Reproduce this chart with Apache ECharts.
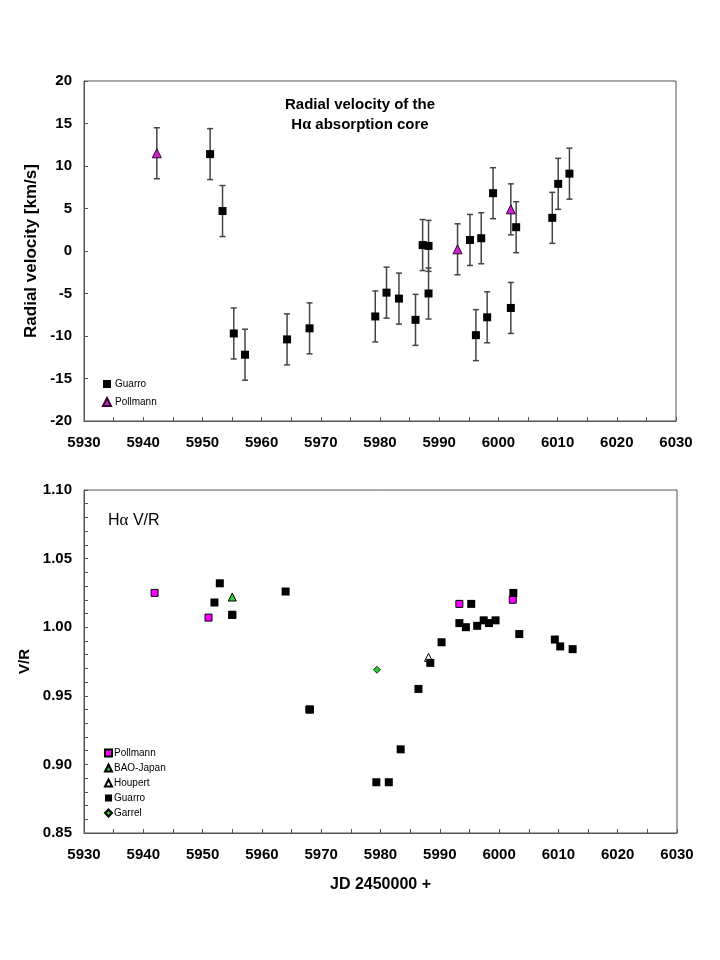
<!DOCTYPE html>
<html>
<head>
<meta charset="utf-8">
<script src="https://cdn.jsdelivr.net/npm/echarts@6/dist/echarts.min.js"></script>
<style>
html,body{margin:0;padding:0;background:#fff;}
#chart{width:720px;height:960px;}
</style>
</head>
<body>
<div id="chart"></div>
<script>
// ---------- Data: radial velocity (top panel) ----------
const rvGuarroX = [5951.3, 5953.4, 5955.3, 5957.2, 5964.3, 5968.1, 5979.2, 5981.1, 5983.2, 5986.0, 5987.2, 5988.2, 5988.2, 5995.2, 5996.2, 5997.1, 5998.1, 5999.1, 6002.1, 6003.0, 6009.1, 6010.1, 6012.0];
const rvGuarroY = [11.4, 4.7, -9.7, -12.2, -10.4, -9.1, -7.7, -4.9, -5.6, -8.1, 0.7, 0.6, -5.0, 1.3, -9.9, 1.5, -7.8, 6.8, -6.7, 2.8, 3.9, 7.9, 9.1];
const rvGuarroErr = [3, 3, 3, 3, 3, 3, 3, 3, 3, 3, 3, 3, 3, 3, 3, 3, 3, 3, 3, 3, 3, 3, 3];
const rvPollmannX = [5942.3, 5993.1, 6002.1];
const rvPollmannY = [11.5, 0.2, 4.9];
const rvPollmannErr = [3, 3, 3];

// ---------- Data: V/R (bottom panel) ----------
const vrPollmannX = [5941.9, 5951.0, 5955.0, 5968.0, 5993.3, 6002.3];
const vrPollmannY = [1.025, 1.007, 1.009, 0.940, 1.017, 1.020];
const vrBaoX = [5955.0];
const vrBaoY = [1.022];
const vrHoupertX = [5988.1];
const vrHoupertY = [0.978];
const vrGuarroX = [5952.0, 5952.9, 5955.0, 5964.0, 5968.1, 5979.3, 5981.4, 5983.4, 5986.4, 5988.4, 5990.3, 5993.3, 5994.4, 5995.3, 5996.3, 5997.4, 5998.3, 5999.4, 6002.4, 6003.4, 6009.4, 6010.3, 6012.4];
const vrGuarroY = [1.018, 1.032, 1.009, 1.026, 0.940, 0.887, 0.887, 0.911, 0.955, 0.974, 0.989, 1.003, 1.000, 1.017, 1.001, 1.005, 1.003, 1.005, 1.025, 0.995, 0.991, 0.986, 0.984];
const vrGarrelX = [5979.4];
const vrGarrelY = [0.969];

// ---------- Axis settings ----------
const xMin = 5930, xMax = 6030, xStep = 10;
const rvMin = -20, rvMax = 20, rvStep = 5;
const vrMin = 0.85, vrMax = 1.10, vrStep = 0.05;

const zip = (xs, ys) => xs.map((x, i) => [x, ys[i]]);
const bars = (xs, ys, es) => xs.map((x, i) => [x, ys[i] - es[i], ys[i] + es[i]]);

const FONT = '"Liberation Sans", Arial, sans-serif';
const AX = '#555';

function errRender(params, api) {
  const x = api.value(0);
  const p1 = api.coord([x, api.value(1)]);
  const p2 = api.coord([x, api.value(2)]);
  const w = 3;
  const st = { stroke: '#444', lineWidth: 1.5 };
  return {
    type: 'group',
    children: [
      { type: 'line', shape: { x1: p1[0], y1: p1[1], x2: p2[0], y2: p2[1] }, style: st },
      { type: 'line', shape: { x1: p1[0] - w, y1: p1[1], x2: p1[0] + w, y2: p1[1] }, style: st },
      { type: 'line', shape: { x1: p2[0] - w, y1: p2[1], x2: p2[0] + w, y2: p2[1] }, style: st }
    ]
  };
}

function xAxisCfg(gi, withName) {
  const a = {
    type: 'value', gridIndex: gi, min: xMin, max: xMax, interval: xStep,
    axisLine: { show: true, onZero: false, lineStyle: { color: AX, width: 1 } },
    axisTick: { show: true, inside: true, length: 4, lineStyle: { color: AX } },
    minorTick: { show: true, splitNumber: 2, length: 4, lineStyle: { color: AX } },
    splitLine: { show: false },
    axisLabel: { color: '#000', fontSize: 15, fontWeight: 'bold', fontFamily: FONT, margin: 14,
      formatter: v => String(v) }
  };
  if (withName) {
    a.name = 'JD 2450000 +';
    a.nameLocation = 'middle';
    a.nameGap = 44;
    a.nameTextStyle = { color: '#000', fontSize: 16, fontWeight: 'bold', fontFamily: FONT };
  }
  return a;
}

const chart = echarts.init(document.getElementById('chart'), null, { renderer: 'canvas' });
chart.setOption({
  backgroundColor: '#fff',
  animation: false,
  grid: [
    { left: 84, top: 81, width: 592, height: 340, show: true, borderColor: AX, borderWidth: 1, backgroundColor: 'transparent' },
    { left: 84, top: 490, width: 593, height: 343, show: true, borderColor: AX, borderWidth: 1, backgroundColor: 'transparent' }
  ],
  xAxis: [xAxisCfg(0, false), xAxisCfg(1, true)],
  yAxis: [
    {
      type: 'value', gridIndex: 0, min: rvMin, max: rvMax, interval: rvStep,
      axisLine: { show: true, onZero: false, lineStyle: { color: AX } },
      axisTick: { show: true, inside: true, length: 4, lineStyle: { color: AX } },
      splitLine: { show: false },
      axisLabel: { color: '#000', fontSize: 15, fontWeight: 'bold', fontFamily: FONT, margin: 12 },
      name: 'Radial velocity [km/s]', nameLocation: 'middle', nameGap: 43, nameRotate: 90,
      nameTextStyle: { color: '#000', fontSize: 17, fontWeight: 'bold', fontFamily: FONT }
    },
    {
      type: 'value', gridIndex: 1, min: vrMin, max: vrMax, interval: vrStep,
      axisLine: { show: true, onZero: false, lineStyle: { color: AX } },
      axisTick: { show: true, inside: true, length: 4, lineStyle: { color: AX } },
      minorTick: { show: true, splitNumber: 5, length: 4, lineStyle: { color: AX } },
      splitLine: { show: false },
      axisLabel: { color: '#000', fontSize: 15, fontWeight: 'bold', fontFamily: FONT, margin: 12,
        formatter: v => v.toFixed(2) },
      name: 'V/R', nameLocation: 'middle', nameGap: 44, nameRotate: 90,
      nameTextStyle: { color: '#000', fontSize: 15, fontWeight: 'bold', fontFamily: FONT }
    }
  ],
  legend: [
    {
      data: ['RV: Guarro', 'RV: Pollmann'], orient: 'vertical', left: 97, top: 374,
      itemWidth: 8, itemHeight: 8, itemGap: 8, selectedMode: false,
      formatter: n => n.replace(/^.*?: /, ''),
      textStyle: { fontSize: 10, fontFamily: FONT, color: '#000', padding: [0, 0, 0, -1] }
    },
    {
      data: ['VR: Pollmann', 'VR: BAO-Japan', 'VR: Houpert', 'VR: Guarro', 'VR: Garrel'],
      orient: 'vertical', left: 99, top: 743,
      itemWidth: 7, itemHeight: 7, itemGap: 5, selectedMode: false,
      formatter: n => n.replace(/^.*?: /, ''),
      textStyle: { fontSize: 10, fontFamily: FONT, color: '#000', padding: [0, 0, 0, -3] }
    }
  ],
  graphic: [
    {
      type: 'text', left: 'center', top: 95,
      style: {
        text: 'Radial velocity of the\nH{a|α} absorption core',
        fill: '#000', font: 'bold 15px ' + FONT, textAlign: 'center', lineHeight: 20,
        rich: { a: { fontFamily: '"Liberation Serif", serif', fontSize: 16, fontWeight: 'bold' } }
      },
      position: [2, 0]
    },
    {
      type: 'text', left: 108, top: 512,
      style: {
        text: 'H{a|α} V/R', fill: '#000', font: '16px ' + FONT,
        rich: { a: { fontFamily: '"Liberation Serif", serif', fontSize: 17 } }
      }
    }
  ],
  series: [
    // top panel
    { type: 'custom', xAxisIndex: 0, yAxisIndex: 0, renderItem: errRender, encode: { x: 0, y: [1, 2] },
      data: bars(rvGuarroX, rvGuarroY, rvGuarroErr), silent: true, z: 1 },
    { type: 'custom', xAxisIndex: 0, yAxisIndex: 0, renderItem: errRender, encode: { x: 0, y: [1, 2] },
      data: bars(rvPollmannX, rvPollmannY, rvPollmannErr), silent: true, z: 1 },
    { name: 'RV: Guarro', type: 'scatter', xAxisIndex: 0, yAxisIndex: 0, symbol: 'rect', symbolSize: 8,
      itemStyle: { color: '#000', opacity: 1 }, data: zip(rvGuarroX, rvGuarroY), z: 3 },
    { name: 'RV: Pollmann', type: 'scatter', xAxisIndex: 0, yAxisIndex: 0, symbol: 'triangle', symbolSize: 9,
      itemStyle: { color: '#cc22cc', borderColor: '#330033', borderWidth: 1, opacity: 1 }, data: zip(rvPollmannX, rvPollmannY), z: 3 },
    // bottom panel
    { name: 'VR: Pollmann', type: 'scatter', xAxisIndex: 1, yAxisIndex: 1, symbol: 'rect', symbolSize: 7,
      itemStyle: { color: '#ff00ff', borderColor: '#000', borderWidth: 1, opacity: 1 }, data: zip(vrPollmannX, vrPollmannY), z: 2 },
    { name: 'VR: BAO-Japan', type: 'scatter', xAxisIndex: 1, yAxisIndex: 1, symbol: 'triangle', symbolSize: 8,
      itemStyle: { color: '#33cc33', borderColor: '#000', borderWidth: 1, opacity: 1 }, data: zip(vrBaoX, vrBaoY), z: 2 },
    { name: 'VR: Houpert', type: 'scatter', xAxisIndex: 1, yAxisIndex: 1, symbol: 'triangle', symbolSize: 8,
      itemStyle: { color: '#fff', borderColor: '#000', borderWidth: 1, opacity: 1 }, data: zip(vrHoupertX, vrHoupertY), z: 2 },
    { name: 'VR: Guarro', type: 'scatter', xAxisIndex: 1, yAxisIndex: 1, symbol: 'rect', symbolSize: 8,
      itemStyle: { color: '#000', opacity: 1 }, data: zip(vrGuarroX, vrGuarroY), z: 3 },
    { name: 'VR: Garrel', type: 'scatter', xAxisIndex: 1, yAxisIndex: 1, symbol: 'diamond', symbolSize: 7,
      itemStyle: { color: '#22cc22', borderColor: '#000', borderWidth: 0.8, opacity: 1 }, data: zip(vrGarrelX, vrGarrelY), z: 3 }
  ]
});
</script>
</body>
</html>
